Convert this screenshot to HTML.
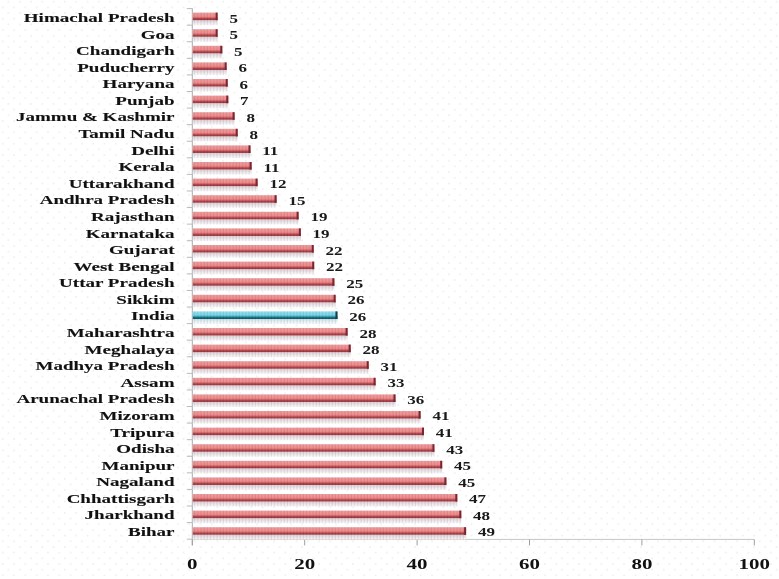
<!DOCTYPE html>
<html><head><meta charset="utf-8"><style>
html,body{margin:0;padding:0;}
body{width:779px;height:579px;overflow:hidden;position:relative;background-color:#fff;
background-image:radial-gradient(circle at 50% 50%, rgba(0,0,0,0.08) 0, rgba(0,0,0,0.045) 0.9px, rgba(0,0,0,0) 1.5px),radial-gradient(circle at 50% 50%, rgba(0,0,0,0.08) 0, rgba(0,0,0,0.045) 0.9px, rgba(0,0,0,0) 1.5px);
background-size:11.3px 11.372px,11.3px 11.372px;background-position:-2.85px 1.7px,2.8px 7.39px;}
svg{position:absolute;left:0;top:0;filter:blur(0.45px);}
text.c{font-family:"Liberation Serif",serif;font-weight:bold;font-size:13.4px;fill:#1a1a1a;}
text.l{font-family:"Liberation Serif",serif;font-weight:bold;font-size:13.5px;fill:#111;stroke:#111;stroke-width:0.1px;}
text.a{font-family:"Liberation Serif",serif;font-weight:bold;font-size:15px;fill:#111;}
</style></head><body>
<svg width="779" height="579" viewBox="0 0 779 579">
<defs>
<linearGradient id="gr" x1="0" y1="0" x2="0" y2="1">
<stop offset="0" stop-color="#e8a0a4"/>
<stop offset="0.1" stop-color="#f09a9c"/>
<stop offset="0.5" stop-color="#f08c8c"/>
<stop offset="0.65" stop-color="#d86c70"/>
<stop offset="0.78" stop-color="#b04850"/>
<stop offset="0.92" stop-color="#a03c44"/>
<stop offset="1" stop-color="#b05a60"/>
</linearGradient>
<linearGradient id="gb" x1="0" y1="0" x2="0" y2="1">
<stop offset="0" stop-color="#98dce8"/>
<stop offset="0.1" stop-color="#90e0f0"/>
<stop offset="0.5" stop-color="#78d4e8"/>
<stop offset="0.65" stop-color="#48a8bc"/>
<stop offset="0.78" stop-color="#1e7688"/>
<stop offset="0.92" stop-color="#125a6a"/>
<stop offset="1" stop-color="#307080"/>
</linearGradient>
<linearGradient id="sr" x1="0" y1="0" x2="0" y2="1">
<stop offset="0" stop-color="#dcd2da"/>
<stop offset="0.5" stop-color="#ece6ea"/>
<stop offset="1" stop-color="#f8f4f6" stop-opacity="0.6"/>
</linearGradient>
<linearGradient id="sb" x1="0" y1="0" x2="0" y2="1">
<stop offset="0" stop-color="#c9dfe6"/>
<stop offset="1" stop-color="#eef4f6" stop-opacity="0.3"/>
</linearGradient>
<pattern id="stripes" width="3.2" height="20" patternUnits="userSpaceOnUse">
<rect x="2.1" y="0" width="1.1" height="20" fill="#000" fill-opacity="0.09"/>
</pattern>
</defs>
<line x1="192.3" y1="8.3" x2="192.3" y2="545.4" stroke="#a4acac" stroke-width="1"/>
<line x1="192.3" y1="539.4" x2="754.3" y2="539.4" stroke="#c4c8c8" stroke-width="1"/>
<line x1="186.8" y1="8.60" x2="192.3" y2="8.60" stroke="#b4bcbc" stroke-width="1"/>
<line x1="186.8" y1="25.18" x2="192.3" y2="25.18" stroke="#b4bcbc" stroke-width="1"/>
<line x1="186.8" y1="41.76" x2="192.3" y2="41.76" stroke="#b4bcbc" stroke-width="1"/>
<line x1="186.8" y1="58.34" x2="192.3" y2="58.34" stroke="#b4bcbc" stroke-width="1"/>
<line x1="186.8" y1="74.92" x2="192.3" y2="74.92" stroke="#b4bcbc" stroke-width="1"/>
<line x1="186.8" y1="91.50" x2="192.3" y2="91.50" stroke="#b4bcbc" stroke-width="1"/>
<line x1="186.8" y1="108.08" x2="192.3" y2="108.08" stroke="#b4bcbc" stroke-width="1"/>
<line x1="186.8" y1="124.66" x2="192.3" y2="124.66" stroke="#b4bcbc" stroke-width="1"/>
<line x1="186.8" y1="141.24" x2="192.3" y2="141.24" stroke="#b4bcbc" stroke-width="1"/>
<line x1="186.8" y1="157.82" x2="192.3" y2="157.82" stroke="#b4bcbc" stroke-width="1"/>
<line x1="186.8" y1="174.40" x2="192.3" y2="174.40" stroke="#b4bcbc" stroke-width="1"/>
<line x1="186.8" y1="190.98" x2="192.3" y2="190.98" stroke="#b4bcbc" stroke-width="1"/>
<line x1="186.8" y1="207.56" x2="192.3" y2="207.56" stroke="#b4bcbc" stroke-width="1"/>
<line x1="186.8" y1="224.14" x2="192.3" y2="224.14" stroke="#b4bcbc" stroke-width="1"/>
<line x1="186.8" y1="240.72" x2="192.3" y2="240.72" stroke="#b4bcbc" stroke-width="1"/>
<line x1="186.8" y1="257.30" x2="192.3" y2="257.30" stroke="#b4bcbc" stroke-width="1"/>
<line x1="186.8" y1="273.88" x2="192.3" y2="273.88" stroke="#b4bcbc" stroke-width="1"/>
<line x1="186.8" y1="290.46" x2="192.3" y2="290.46" stroke="#b4bcbc" stroke-width="1"/>
<line x1="186.8" y1="307.04" x2="192.3" y2="307.04" stroke="#b4bcbc" stroke-width="1"/>
<line x1="186.8" y1="323.62" x2="192.3" y2="323.62" stroke="#b4bcbc" stroke-width="1"/>
<line x1="186.8" y1="340.20" x2="192.3" y2="340.20" stroke="#b4bcbc" stroke-width="1"/>
<line x1="186.8" y1="356.78" x2="192.3" y2="356.78" stroke="#b4bcbc" stroke-width="1"/>
<line x1="186.8" y1="373.36" x2="192.3" y2="373.36" stroke="#b4bcbc" stroke-width="1"/>
<line x1="186.8" y1="389.94" x2="192.3" y2="389.94" stroke="#b4bcbc" stroke-width="1"/>
<line x1="186.8" y1="406.52" x2="192.3" y2="406.52" stroke="#b4bcbc" stroke-width="1"/>
<line x1="186.8" y1="423.10" x2="192.3" y2="423.10" stroke="#b4bcbc" stroke-width="1"/>
<line x1="186.8" y1="439.68" x2="192.3" y2="439.68" stroke="#b4bcbc" stroke-width="1"/>
<line x1="186.8" y1="456.26" x2="192.3" y2="456.26" stroke="#b4bcbc" stroke-width="1"/>
<line x1="186.8" y1="472.84" x2="192.3" y2="472.84" stroke="#b4bcbc" stroke-width="1"/>
<line x1="186.8" y1="489.42" x2="192.3" y2="489.42" stroke="#b4bcbc" stroke-width="1"/>
<line x1="186.8" y1="506.00" x2="192.3" y2="506.00" stroke="#b4bcbc" stroke-width="1"/>
<line x1="186.8" y1="522.58" x2="192.3" y2="522.58" stroke="#b4bcbc" stroke-width="1"/>
<line x1="186.8" y1="539.16" x2="192.3" y2="539.16" stroke="#b4bcbc" stroke-width="1"/>
<line x1="192.30" y1="539.4" x2="192.30" y2="545.4" stroke="#98a0a0" stroke-width="1"/>
<line x1="304.70" y1="539.4" x2="304.70" y2="545.4" stroke="#98a0a0" stroke-width="1"/>
<line x1="417.10" y1="539.4" x2="417.10" y2="545.4" stroke="#98a0a0" stroke-width="1"/>
<line x1="529.50" y1="539.4" x2="529.50" y2="545.4" stroke="#98a0a0" stroke-width="1"/>
<line x1="641.90" y1="539.4" x2="641.90" y2="545.4" stroke="#98a0a0" stroke-width="1"/>
<line x1="754.30" y1="539.4" x2="754.30" y2="545.4" stroke="#98a0a0" stroke-width="1"/>
<rect x="192.8" y="20.20" width="24.80" height="5" fill="url(#sr)"/>
<rect x="192.8" y="12.60" width="24.80" height="7.6" fill="url(#gr)"/>
<rect x="192.8" y="12.60" width="24.80" height="12.6" fill="url(#stripes)"/>
<rect x="215.60" y="12.60" width="2" height="7.6" fill="#7a2630"/>
<rect x="192.8" y="36.80" width="24.80" height="5" fill="url(#sr)"/>
<rect x="192.8" y="29.20" width="24.80" height="7.6" fill="url(#gr)"/>
<rect x="192.8" y="29.20" width="24.80" height="12.6" fill="url(#stripes)"/>
<rect x="215.60" y="29.20" width="2" height="7.6" fill="#7a2630"/>
<rect x="192.8" y="53.40" width="29.50" height="5" fill="url(#sr)"/>
<rect x="192.8" y="45.80" width="29.50" height="7.6" fill="url(#gr)"/>
<rect x="192.8" y="45.80" width="29.50" height="12.6" fill="url(#stripes)"/>
<rect x="220.30" y="45.80" width="2" height="7.6" fill="#7a2630"/>
<rect x="192.8" y="70.00" width="33.80" height="5" fill="url(#sr)"/>
<rect x="192.8" y="62.40" width="33.80" height="7.6" fill="url(#gr)"/>
<rect x="192.8" y="62.40" width="33.80" height="12.6" fill="url(#stripes)"/>
<rect x="224.60" y="62.40" width="2" height="7.6" fill="#7a2630"/>
<rect x="192.8" y="86.60" width="34.90" height="5" fill="url(#sr)"/>
<rect x="192.8" y="79.00" width="34.90" height="7.6" fill="url(#gr)"/>
<rect x="192.8" y="79.00" width="34.90" height="12.6" fill="url(#stripes)"/>
<rect x="225.70" y="79.00" width="2" height="7.6" fill="#7a2630"/>
<rect x="192.8" y="103.20" width="35.50" height="5" fill="url(#sr)"/>
<rect x="192.8" y="95.60" width="35.50" height="7.6" fill="url(#gr)"/>
<rect x="192.8" y="95.60" width="35.50" height="12.6" fill="url(#stripes)"/>
<rect x="226.30" y="95.60" width="2" height="7.6" fill="#7a2630"/>
<rect x="192.8" y="119.80" width="41.80" height="5" fill="url(#sr)"/>
<rect x="192.8" y="112.20" width="41.80" height="7.6" fill="url(#gr)"/>
<rect x="192.8" y="112.20" width="41.80" height="12.6" fill="url(#stripes)"/>
<rect x="232.60" y="112.20" width="2" height="7.6" fill="#7a2630"/>
<rect x="192.8" y="136.40" width="44.90" height="5" fill="url(#sr)"/>
<rect x="192.8" y="128.80" width="44.90" height="7.6" fill="url(#gr)"/>
<rect x="192.8" y="128.80" width="44.90" height="12.6" fill="url(#stripes)"/>
<rect x="235.70" y="128.80" width="2" height="7.6" fill="#7a2630"/>
<rect x="192.8" y="153.00" width="57.70" height="5" fill="url(#sr)"/>
<rect x="192.8" y="145.40" width="57.70" height="7.6" fill="url(#gr)"/>
<rect x="192.8" y="145.40" width="57.70" height="12.6" fill="url(#stripes)"/>
<rect x="248.50" y="145.40" width="2" height="7.6" fill="#7a2630"/>
<rect x="192.8" y="169.60" width="58.80" height="5" fill="url(#sr)"/>
<rect x="192.8" y="162.00" width="58.80" height="7.6" fill="url(#gr)"/>
<rect x="192.8" y="162.00" width="58.80" height="12.6" fill="url(#stripes)"/>
<rect x="249.60" y="162.00" width="2" height="7.6" fill="#7a2630"/>
<rect x="192.8" y="186.20" width="64.80" height="5" fill="url(#sr)"/>
<rect x="192.8" y="178.60" width="64.80" height="7.6" fill="url(#gr)"/>
<rect x="192.8" y="178.60" width="64.80" height="12.6" fill="url(#stripes)"/>
<rect x="255.60" y="178.60" width="2" height="7.6" fill="#7a2630"/>
<rect x="192.8" y="202.80" width="83.80" height="5" fill="url(#sr)"/>
<rect x="192.8" y="195.20" width="83.80" height="7.6" fill="url(#gr)"/>
<rect x="192.8" y="195.20" width="83.80" height="12.6" fill="url(#stripes)"/>
<rect x="274.60" y="195.20" width="2" height="7.6" fill="#7a2630"/>
<rect x="192.8" y="219.40" width="105.80" height="5" fill="url(#sr)"/>
<rect x="192.8" y="211.80" width="105.80" height="7.6" fill="url(#gr)"/>
<rect x="192.8" y="211.80" width="105.80" height="12.6" fill="url(#stripes)"/>
<rect x="296.60" y="211.80" width="2" height="7.6" fill="#7a2630"/>
<rect x="192.8" y="236.00" width="108.00" height="5" fill="url(#sr)"/>
<rect x="192.8" y="228.40" width="108.00" height="7.6" fill="url(#gr)"/>
<rect x="192.8" y="228.40" width="108.00" height="12.6" fill="url(#stripes)"/>
<rect x="298.80" y="228.40" width="2" height="7.6" fill="#7a2630"/>
<rect x="192.8" y="252.60" width="120.90" height="5" fill="url(#sr)"/>
<rect x="192.8" y="245.00" width="120.90" height="7.6" fill="url(#gr)"/>
<rect x="192.8" y="245.00" width="120.90" height="12.6" fill="url(#stripes)"/>
<rect x="311.70" y="245.00" width="2" height="7.6" fill="#7a2630"/>
<rect x="192.8" y="269.20" width="121.40" height="5" fill="url(#sr)"/>
<rect x="192.8" y="261.60" width="121.40" height="7.6" fill="url(#gr)"/>
<rect x="192.8" y="261.60" width="121.40" height="12.6" fill="url(#stripes)"/>
<rect x="312.20" y="261.60" width="2" height="7.6" fill="#7a2630"/>
<rect x="192.8" y="285.80" width="141.60" height="5" fill="url(#sr)"/>
<rect x="192.8" y="278.20" width="141.60" height="7.6" fill="url(#gr)"/>
<rect x="192.8" y="278.20" width="141.60" height="12.6" fill="url(#stripes)"/>
<rect x="332.40" y="278.20" width="2" height="7.6" fill="#7a2630"/>
<rect x="192.8" y="302.40" width="142.80" height="5" fill="url(#sr)"/>
<rect x="192.8" y="294.80" width="142.80" height="7.6" fill="url(#gr)"/>
<rect x="192.8" y="294.80" width="142.80" height="12.6" fill="url(#stripes)"/>
<rect x="333.60" y="294.80" width="2" height="7.6" fill="#7a2630"/>
<rect x="192.8" y="319.00" width="144.70" height="5" fill="url(#sb)"/>
<rect x="192.8" y="311.40" width="144.70" height="7.6" fill="url(#gb)"/>
<rect x="192.8" y="311.40" width="144.70" height="12.6" fill="url(#stripes)"/>
<rect x="335.50" y="311.40" width="2" height="7.6" fill="#123f4c"/>
<rect x="192.8" y="335.60" width="154.80" height="5" fill="url(#sr)"/>
<rect x="192.8" y="328.00" width="154.80" height="7.6" fill="url(#gr)"/>
<rect x="192.8" y="328.00" width="154.80" height="12.6" fill="url(#stripes)"/>
<rect x="345.60" y="328.00" width="2" height="7.6" fill="#7a2630"/>
<rect x="192.8" y="352.20" width="157.90" height="5" fill="url(#sr)"/>
<rect x="192.8" y="344.60" width="157.90" height="7.6" fill="url(#gr)"/>
<rect x="192.8" y="344.60" width="157.90" height="12.6" fill="url(#stripes)"/>
<rect x="348.70" y="344.60" width="2" height="7.6" fill="#7a2630"/>
<rect x="192.8" y="368.80" width="175.90" height="5" fill="url(#sr)"/>
<rect x="192.8" y="361.20" width="175.90" height="7.6" fill="url(#gr)"/>
<rect x="192.8" y="361.20" width="175.90" height="12.6" fill="url(#stripes)"/>
<rect x="366.70" y="361.20" width="2" height="7.6" fill="#7a2630"/>
<rect x="192.8" y="385.40" width="182.80" height="5" fill="url(#sr)"/>
<rect x="192.8" y="377.80" width="182.80" height="7.6" fill="url(#gr)"/>
<rect x="192.8" y="377.80" width="182.80" height="12.6" fill="url(#stripes)"/>
<rect x="373.60" y="377.80" width="2" height="7.6" fill="#7a2630"/>
<rect x="192.8" y="402.00" width="202.70" height="5" fill="url(#sr)"/>
<rect x="192.8" y="394.40" width="202.70" height="7.6" fill="url(#gr)"/>
<rect x="192.8" y="394.40" width="202.70" height="12.6" fill="url(#stripes)"/>
<rect x="393.50" y="394.40" width="2" height="7.6" fill="#7a2630"/>
<rect x="192.8" y="418.60" width="227.80" height="5" fill="url(#sr)"/>
<rect x="192.8" y="411.00" width="227.80" height="7.6" fill="url(#gr)"/>
<rect x="192.8" y="411.00" width="227.80" height="12.6" fill="url(#stripes)"/>
<rect x="418.60" y="411.00" width="2" height="7.6" fill="#7a2630"/>
<rect x="192.8" y="435.20" width="231.20" height="5" fill="url(#sr)"/>
<rect x="192.8" y="427.60" width="231.20" height="7.6" fill="url(#gr)"/>
<rect x="192.8" y="427.60" width="231.20" height="12.6" fill="url(#stripes)"/>
<rect x="422.00" y="427.60" width="2" height="7.6" fill="#7a2630"/>
<rect x="192.8" y="451.80" width="241.60" height="5" fill="url(#sr)"/>
<rect x="192.8" y="444.20" width="241.60" height="7.6" fill="url(#gr)"/>
<rect x="192.8" y="444.20" width="241.60" height="12.6" fill="url(#stripes)"/>
<rect x="432.40" y="444.20" width="2" height="7.6" fill="#7a2630"/>
<rect x="192.8" y="468.40" width="249.40" height="5" fill="url(#sr)"/>
<rect x="192.8" y="460.80" width="249.40" height="7.6" fill="url(#gr)"/>
<rect x="192.8" y="460.80" width="249.40" height="12.6" fill="url(#stripes)"/>
<rect x="440.20" y="460.80" width="2" height="7.6" fill="#7a2630"/>
<rect x="192.8" y="485.00" width="253.60" height="5" fill="url(#sr)"/>
<rect x="192.8" y="477.40" width="253.60" height="7.6" fill="url(#gr)"/>
<rect x="192.8" y="477.40" width="253.60" height="12.6" fill="url(#stripes)"/>
<rect x="444.40" y="477.40" width="2" height="7.6" fill="#7a2630"/>
<rect x="192.8" y="501.60" width="264.50" height="5" fill="url(#sr)"/>
<rect x="192.8" y="494.00" width="264.50" height="7.6" fill="url(#gr)"/>
<rect x="192.8" y="494.00" width="264.50" height="12.6" fill="url(#stripes)"/>
<rect x="455.30" y="494.00" width="2" height="7.6" fill="#7a2630"/>
<rect x="192.8" y="518.20" width="268.50" height="5" fill="url(#sr)"/>
<rect x="192.8" y="510.60" width="268.50" height="7.6" fill="url(#gr)"/>
<rect x="192.8" y="510.60" width="268.50" height="12.6" fill="url(#stripes)"/>
<rect x="459.30" y="510.60" width="2" height="7.6" fill="#7a2630"/>
<rect x="192.8" y="534.80" width="273.30" height="5" fill="url(#sr)"/>
<rect x="192.8" y="527.20" width="273.30" height="7.6" fill="url(#gr)"/>
<rect x="192.8" y="527.20" width="273.30" height="12.6" fill="url(#stripes)"/>
<rect x="464.10" y="527.20" width="2" height="7.6" fill="#7a2630"/>
<text class="l" transform="translate(174.5,22.00) scale(1.41,1)" text-anchor="end">Himachal Pradesh</text>
<text class="l" transform="translate(174.5,38.58) scale(1.41,1)" text-anchor="end">Goa</text>
<text class="l" transform="translate(174.5,55.16) scale(1.41,1)" text-anchor="end">Chandigarh</text>
<text class="l" transform="translate(174.5,71.74) scale(1.41,1)" text-anchor="end">Puducherry</text>
<text class="l" transform="translate(174.5,88.32) scale(1.41,1)" text-anchor="end">Haryana</text>
<text class="l" transform="translate(174.5,104.90) scale(1.41,1)" text-anchor="end">Punjab</text>
<text class="l" transform="translate(174.5,121.48) scale(1.41,1)" text-anchor="end">Jammu &amp; Kashmir</text>
<text class="l" transform="translate(174.5,138.06) scale(1.41,1)" text-anchor="end">Tamil Nadu</text>
<text class="l" transform="translate(174.5,154.64) scale(1.41,1)" text-anchor="end">Delhi</text>
<text class="l" transform="translate(174.5,171.22) scale(1.41,1)" text-anchor="end">Kerala</text>
<text class="l" transform="translate(174.5,187.80) scale(1.41,1)" text-anchor="end">Uttarakhand</text>
<text class="l" transform="translate(174.5,204.38) scale(1.41,1)" text-anchor="end">Andhra Pradesh</text>
<text class="l" transform="translate(174.5,220.96) scale(1.41,1)" text-anchor="end">Rajasthan</text>
<text class="l" transform="translate(174.5,237.54) scale(1.41,1)" text-anchor="end">Karnataka</text>
<text class="l" transform="translate(174.5,254.12) scale(1.41,1)" text-anchor="end">Gujarat</text>
<text class="l" transform="translate(174.5,270.70) scale(1.41,1)" text-anchor="end">West Bengal</text>
<text class="l" transform="translate(174.5,287.28) scale(1.41,1)" text-anchor="end">Uttar Pradesh</text>
<text class="l" transform="translate(174.5,303.86) scale(1.41,1)" text-anchor="end">Sikkim</text>
<text class="l" transform="translate(174.5,320.44) scale(1.41,1)" text-anchor="end">India</text>
<text class="l" transform="translate(174.5,337.02) scale(1.41,1)" text-anchor="end">Maharashtra</text>
<text class="l" transform="translate(174.5,353.60) scale(1.41,1)" text-anchor="end">Meghalaya</text>
<text class="l" transform="translate(174.5,370.18) scale(1.41,1)" text-anchor="end">Madhya Pradesh</text>
<text class="l" transform="translate(174.5,386.76) scale(1.41,1)" text-anchor="end">Assam</text>
<text class="l" transform="translate(174.5,403.34) scale(1.41,1)" text-anchor="end">Arunachal Pradesh</text>
<text class="l" transform="translate(174.5,419.92) scale(1.41,1)" text-anchor="end">Mizoram</text>
<text class="l" transform="translate(174.5,436.50) scale(1.41,1)" text-anchor="end">Tripura</text>
<text class="l" transform="translate(174.5,453.08) scale(1.41,1)" text-anchor="end">Odisha</text>
<text class="l" transform="translate(174.5,469.66) scale(1.41,1)" text-anchor="end">Manipur</text>
<text class="l" transform="translate(174.5,486.24) scale(1.41,1)" text-anchor="end">Nagaland</text>
<text class="l" transform="translate(174.5,502.82) scale(1.41,1)" text-anchor="end">Chhattisgarh</text>
<text class="l" transform="translate(174.5,519.40) scale(1.41,1)" text-anchor="end">Jharkhand</text>
<text class="l" transform="translate(174.5,535.98) scale(1.41,1)" text-anchor="end">Bihar</text>
<text class="c" transform="translate(229.40,22.50) scale(1.27,1)">5</text>
<text class="c" transform="translate(229.40,39.08) scale(1.27,1)">5</text>
<text class="c" transform="translate(234.10,55.66) scale(1.27,1)">5</text>
<text class="c" transform="translate(238.40,72.24) scale(1.27,1)">6</text>
<text class="c" transform="translate(239.50,88.82) scale(1.27,1)">6</text>
<text class="c" transform="translate(240.10,105.40) scale(1.27,1)">7</text>
<text class="c" transform="translate(246.40,121.98) scale(1.27,1)">8</text>
<text class="c" transform="translate(249.50,138.56) scale(1.27,1)">8</text>
<text class="c" transform="translate(262.30,155.14) scale(1.27,1)">11</text>
<text class="c" transform="translate(263.40,171.72) scale(1.27,1)">11</text>
<text class="c" transform="translate(269.40,188.30) scale(1.27,1)">12</text>
<text class="c" transform="translate(288.40,204.88) scale(1.27,1)">15</text>
<text class="c" transform="translate(310.40,221.46) scale(1.27,1)">19</text>
<text class="c" transform="translate(312.60,238.04) scale(1.27,1)">19</text>
<text class="c" transform="translate(325.50,254.62) scale(1.27,1)">22</text>
<text class="c" transform="translate(326.00,271.20) scale(1.27,1)">22</text>
<text class="c" transform="translate(346.20,287.78) scale(1.27,1)">25</text>
<text class="c" transform="translate(347.40,304.36) scale(1.27,1)">26</text>
<text class="c" transform="translate(349.30,320.94) scale(1.27,1)">26</text>
<text class="c" transform="translate(359.40,337.52) scale(1.27,1)">28</text>
<text class="c" transform="translate(362.50,354.10) scale(1.27,1)">28</text>
<text class="c" transform="translate(380.50,370.68) scale(1.27,1)">31</text>
<text class="c" transform="translate(387.40,387.26) scale(1.27,1)">33</text>
<text class="c" transform="translate(407.30,403.84) scale(1.27,1)">36</text>
<text class="c" transform="translate(432.40,420.42) scale(1.27,1)">41</text>
<text class="c" transform="translate(435.80,437.00) scale(1.27,1)">41</text>
<text class="c" transform="translate(446.20,453.58) scale(1.27,1)">43</text>
<text class="c" transform="translate(454.00,470.16) scale(1.27,1)">45</text>
<text class="c" transform="translate(458.20,486.74) scale(1.27,1)">45</text>
<text class="c" transform="translate(469.10,503.32) scale(1.27,1)">47</text>
<text class="c" transform="translate(473.10,519.90) scale(1.27,1)">48</text>
<text class="c" transform="translate(477.90,536.48) scale(1.27,1)">49</text>
<text class="a" transform="translate(192.30,569.3) scale(1.4,1)" text-anchor="middle">0</text>
<text class="a" transform="translate(304.70,569.3) scale(1.4,1)" text-anchor="middle">20</text>
<text class="a" transform="translate(417.10,569.3) scale(1.4,1)" text-anchor="middle">40</text>
<text class="a" transform="translate(529.50,569.3) scale(1.4,1)" text-anchor="middle">60</text>
<text class="a" transform="translate(641.90,569.3) scale(1.4,1)" text-anchor="middle">80</text>
<text class="a" transform="translate(754.30,569.3) scale(1.4,1)" text-anchor="middle">100</text>
</svg>
</body></html>
